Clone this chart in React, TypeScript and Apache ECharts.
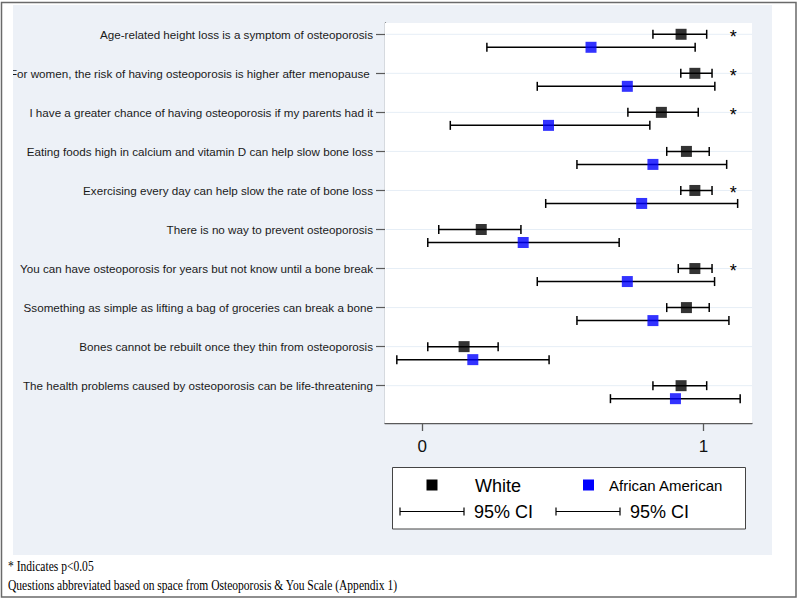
import React, { useEffect, useRef } from "react";
import * as echarts from "echarts";

const questions = [
  "Age-related height loss is a symptom of osteoporosis",
  "For women, the risk of having osteoporosis is higher after menopause ",
  "I have a greater chance of having osteoporosis if my parents had it",
  "Eating foods high in calcium and vitamin D can help slow bone loss",
  "Exercising every day can help slow the rate of bone loss",
  "There is no way to prevent osteoporosis",
  "You can have osteoporosis for years but not know until a bone break",
  "Ssomething as simple as lifting a bag of groceries can break a bone",
  "Bones cannot be rebuilt once they thin from osteoporosis",
  "The health problems caused by osteoporosis can be life-threatening",
];

const whiteMean = [0.92, 0.969, 0.85, 0.939, 0.969, 0.21, 0.969, 0.939, 0.149, 0.92];
const whiteLow = [0.82, 0.919, 0.731, 0.869, 0.919, 0.059, 0.91, 0.869, 0.02, 0.82];
const whiteHigh = [1.011, 1.03, 0.981, 1.02, 1.03, 0.351, 1.03, 1.02, 0.27, 1.011];

const aaMean = [0.6, 0.729, 0.449, 0.82, 0.78, 0.359, 0.729, 0.82, 0.18, 0.9];
const aaLow = [0.23, 0.409, 0.1, 0.55, 0.439, 0.02, 0.409, 0.55, -0.09, 0.669];
const aaHigh = [0.97, 1.04, 0.809, 1.082, 1.121, 0.7, 1.039, 1.09, 0.451, 1.13];

const significant = [true, true, true, false, true, false, true, false, false, false];

const xTicks = [0, 1];

const SANS = "'Liberation Sans', Arial, sans-serif";
const SERIF = "'Liberation Serif', 'Times New Roman', serif";
const AA_OFFSET = 0.333;

export default function App() {
  const ref = useRef<HTMLDivElement>(null);

  useEffect(() => {
    if (!ref.current) return;
    const chart = echarts.init(ref.current, null, { renderer: "svg" });

    const rowIdx = questions.map((_, i) => i);
    const whiteCI = rowIdx.map((i) => [i, whiteLow[i], whiteHigh[i]]);
    const aaCI = rowIdx.map((i) => [i + AA_OFFSET, aaLow[i], aaHigh[i]]);
    const whitePts = rowIdx.map((i) => [whiteMean[i], i]);
    const aaPts = rowIdx.map((i) => [aaMean[i], i + AA_OFFSET]);
    const stars = rowIdx.filter((i) => significant[i]).map((i) => [1.105, i + 0.06]);

    const ciRender = (params: any, api: any) => {
      const y = api.value(0);
      const lo = api.coord([api.value(1), y]);
      const hi = api.coord([api.value(2), y]);
      const st = { stroke: "#000", lineWidth: 1.5 };
      const cap = 4.5;
      return {
        type: "group",
        children: [
          { type: "line", shape: { x1: lo[0], y1: lo[1], x2: hi[0], y2: hi[1] }, style: st },
          { type: "line", shape: { x1: lo[0], y1: lo[1] - cap, x2: lo[0], y2: lo[1] + cap }, style: st },
          { type: "line", shape: { x1: hi[0], y1: hi[1] - cap, x2: hi[0], y2: hi[1] + cap }, style: st },
        ],
      };
    };

    const legendCI = (x1: number, x2: number, y: number) => [
      { type: "line", shape: { x1, y1: y, x2, y2: y }, style: { stroke: "#000", lineWidth: 1.2 } },
      { type: "line", shape: { x1, y1: y - 4, x2: x1, y2: y + 4 }, style: { stroke: "#000", lineWidth: 1.2 } },
      { type: "line", shape: { x1: x2, y1: y - 4, x2, y2: y + 4 }, style: { stroke: "#000", lineWidth: 1.2 } },
    ];

    const option: any = {
      animation: false,
      backgroundColor: "#ffffff",
      grid: {
        left: 385,
        top: 23,
        right: 48,
        bottom: 177,
        show: true,
        backgroundColor: "#ffffff",
        borderWidth: 0,
        z: 1,
      },
      xAxis: {
        type: "value",
        min: -0.132,
        max: 1.172,
        axisLine: { show: true, onZero: false, lineStyle: { color: "#5a5a5a", width: 1.3 } },
        axisTick: { show: true, customValues: xTicks, length: 8, lineStyle: { color: "#5a5a5a", width: 1.3 } },
        axisLabel: {
          customValues: xTicks,
          fontSize: 17,
          fontFamily: SANS,
          color: "#111",
          margin: 15,
        },
        splitLine: { show: false },
      },
      yAxis: {
        type: "value",
        inverse: true,
        min: -0.289,
        max: 9.956,
        axisLine: { show: true, onZero: false, lineStyle: { color: "#5a5a5a", width: 1.3 } },
        axisTick: { show: true, customValues: rowIdx, length: 9, lineStyle: { color: "#5a5a5a", width: 1.2 } },
        axisLabel: {
          customValues: rowIdx,
          formatter: (v: number) => questions[Math.round(v)] ?? "",
          fontSize: 11.65,
          fontFamily: SANS,
          color: "#1a1a1a",
          margin: 12,
        },
        splitLine: { show: false },
      },
      graphic: {
        elements: [
          { type: "rect", z: -100, shape: { x: 13, y: 5, width: 759, height: 550 }, style: { fill: "#edf1f7" } },
          { type: "rect", z: 100, shape: { x: 2, y: 3, width: 11, height: 552 }, style: { fill: "#ffffff" } },
          {
            type: "rect",
            z: 101,
            shape: { x: 1.5, y: 2.5, width: 794.5, height: 594.5 },
            style: { fill: "none", stroke: "#6a6a6a", lineWidth: 1.5 },
          },
          {
            type: "rect",
            z: 100,
            shape: { x: 392.5, y: 467.5, width: 353, height: 61.5 },
            style: { fill: "#ffffff", stroke: "#444", lineWidth: 1 },
          },
          { type: "rect", z: 101, shape: { x: 426.5, y: 479.5, width: 11, height: 11 }, style: { fill: "#000" } },
          {
            type: "text",
            z: 101,
            x: 475,
            y: 486,
            style: { text: "White", fontSize: 18, fontFamily: SANS, fill: "#000", verticalAlign: "middle" },
          },
          { type: "rect", z: 101, shape: { x: 583, y: 479.5, width: 11, height: 11 }, style: { fill: "#0000ff" } },
          {
            type: "text",
            z: 101,
            x: 609,
            y: 485.5,
            style: { text: "African American", fontSize: 15, fontFamily: SANS, fill: "#000", verticalAlign: "middle" },
          },
          ...legendCI(400, 464, 511.5).map((e) => ({ ...e, z: 101 })),
          {
            type: "text",
            z: 101,
            x: 474,
            y: 512,
            style: { text: "95% CI", fontSize: 18, fontFamily: SANS, fill: "#000", verticalAlign: "middle" },
          },
          ...legendCI(556, 620, 511.5).map((e) => ({ ...e, z: 101 })),
          {
            type: "text",
            z: 101,
            x: 630,
            y: 512,
            style: { text: "95% CI", fontSize: 18, fontFamily: SANS, fill: "#000", verticalAlign: "middle" },
          },
          {
            type: "text",
            z: 101,
            x: 8,
            y: 566,
            scaleX: 0.745,
            style: { text: "* Indicates p<0.05", fontSize: 15.5, fontFamily: SERIF, fill: "#000", verticalAlign: "middle" },
          },
          {
            type: "text",
            z: 101,
            x: 8,
            y: 585,
            scaleX: 0.745,
            style: {
              text: "Questions abbreviated based on space from Osteoporosis & You Scale (Appendix 1)",
              fontSize: 15.5,
              fontFamily: SERIF,
              fill: "#000",
              verticalAlign: "middle",
            },
          },
        ],
      },
      series: [
        {
          type: "custom",
          name: "grid lines",
          z: 2,
          silent: true,
          data: rowIdx.map((i) => [i]),
          encode: { y: 0 },
          renderItem: (params: any, api: any) => {
            const cs = params.coordSys;
            const y = api.coord([0, api.value(0)])[1];
            return {
              type: "line",
              shape: { x1: cs.x + 1, y1: y, x2: cs.x + cs.width, y2: y },
              style: { stroke: "#e6eef6", lineWidth: 1 },
            };
          },
        },
        {
          type: "custom",
          name: "White 95% CI",
          z: 3,
          data: whiteCI,
          encode: { y: 0, x: [1, 2] },
          renderItem: ciRender,
        },
        {
          type: "custom",
          name: "African American 95% CI",
          z: 3,
          data: aaCI,
          encode: { y: 0, x: [1, 2] },
          renderItem: ciRender,
        },
        {
          type: "scatter",
          name: "White",
          z: 4,
          symbol: "rect",
          symbolSize: 11,
          itemStyle: { color: "#000" },
          data: whitePts,
        },
        {
          type: "scatter",
          name: "African American",
          z: 4,
          symbol: "rect",
          symbolSize: 11,
          itemStyle: { color: "#0000ff" },
          data: aaPts,
        },
        {
          type: "custom",
          name: "significance",
          z: 4,
          data: stars,
          renderItem: (params: any, api: any) => {
            const p = api.coord([api.value(0), api.value(1)]);
            return {
              type: "text",
              x: p[0],
              y: p[1],
              style: {
                text: "*",
                fontSize: 18,
                fontFamily: SANS,
                fill: "#000",
                align: "center",
                verticalAlign: "middle",
              },
            };
          },
        },
      ],
    };

    chart.setOption(option);
    return () => chart.dispose();
  }, []);

  return (
    <div style={{ position: "fixed", left: 0, top: 0, width: 800, height: 600 }}>
      <div ref={ref} style={{ width: 800, height: 600 }} />
    </div>
  );
}
